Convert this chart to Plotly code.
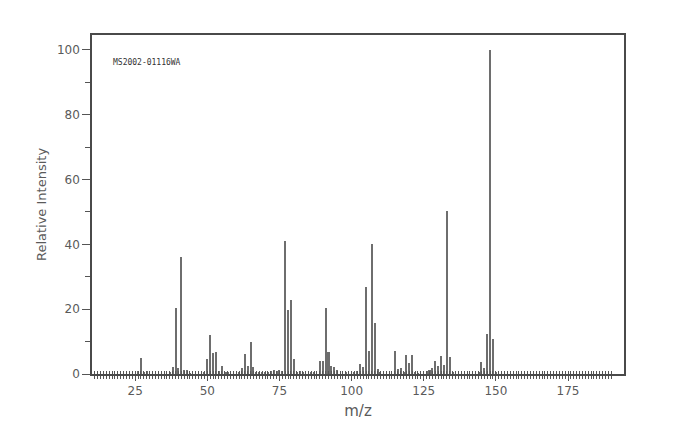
import plotly.graph_objects as go

# m/z values and relative intensities
mz = [26, 27, 28, 29, 37, 38, 39, 40, 41, 42, 43, 44,
      49, 50, 51, 52, 53, 54, 55, 56, 57, 61, 62, 63, 64, 65, 66, 67, 68, 69,
      70, 71, 72, 73, 74, 75, 76, 77, 78, 79, 80, 81, 82, 83, 86, 87,
      89, 90, 91, 92, 93, 94, 95, 98, 101, 102, 103, 104, 105, 106, 107, 108, 109, 110,
      115, 116, 117, 118, 119, 120, 121, 122, 123, 126, 127, 128, 129, 130, 131, 132, 133, 134, 135,
      144, 145, 146, 147, 148, 149, 150]
intensity = [0.8, 5.0, 0.5, 0.9, 0.4, 2.3, 20.3, 2.0, 36.0, 1.2, 1.1, 0.3,
             0.5, 4.5, 12.1, 6.6, 6.9, 0.8, 2.5, 0.5, 0.4, 0.4, 1.7, 6.3, 2.4, 9.8, 2.3, 0.6, 0.6, 0.6,
             0.4, 0.5, 1.0, 1.2, 1.0, 1.1, 0.9, 41.0, 19.8, 22.9, 4.6, 0.4, 1.0, 0.4, 0.4, 0.5,
             4.1, 4.1, 20.3, 6.9, 2.6, 2.1, 1.1, 0.4, 0.4, 0.8, 3.1, 2.2, 26.8, 7.0, 40.2, 15.7, 1.4, 0.5,
             7.0, 1.4, 2.0, 0.5, 6.0, 3.5, 6.0, 0.6, 0.3, 1.0, 1.2, 1.8, 3.9, 2.5, 5.5, 2.8, 50.2, 5.4, 0.5,
             0.4, 3.6, 2.0, 12.4, 100.0, 10.9, 0.6]

x_tickvals = [25, 50, 75, 100, 125, 150, 175]
x_minor_ticks = list(range(11, 191))
y_tickvals = [0, 20, 40, 60, 80, 100]
y_minor_ticks = [10, 30, 50, 70, 90]
sample_id = "MS2002-01116WA"

axis_col = "#4a4a4a"
tick_col = "#555555"
text_col = "#5a5a5a"

fig = go.Figure()
fig.add_trace(go.Bar(x=mz, y=intensity, width=0.7,
                     marker=dict(color="#6e6e6e", line=dict(width=0)),
                     showlegend=False, hoverinfo="x+y"))
# invisible trace on the overlay axis so its inside ticks are drawn
fig.add_trace(go.Scatter(x=[mz[0]], y=[0], xaxis="x2", mode="markers",
                         marker=dict(opacity=0), showlegend=False, hoverinfo="skip"))

fig.update_layout(
    width=700, height=447,
    margin=dict(l=84, r=84, t=27, b=81),
    paper_bgcolor="white", plot_bgcolor="white",
    bargap=0,
    font=dict(family="DejaVu Sans", color=text_col, size=12),
    xaxis=dict(range=[10.05, 194.4], tickvals=x_tickvals,
               ticks="outside", ticklen=5, tickwidth=1, tickcolor=tick_col,
               minor=dict(tickvals=x_minor_ticks, ticks="outside", ticklen=3, tickcolor=tick_col, tickwidth=1),
               showline=True, linecolor=axis_col, linewidth=1.5, mirror=True,
               showgrid=False, zeroline=False,
               tickfont=dict(size=12, color=text_col),
               title=dict(text="m/z", font=dict(size=15, color=text_col), standoff=8)),
    xaxis2=dict(range=[10.05, 194.4], overlaying="x", side="bottom", anchor="y",
                ticks="inside", tickvals=x_minor_ticks, ticklen=3, tickcolor=tick_col, tickwidth=1,
                showticklabels=False, showgrid=False, zeroline=False, showline=False),
    yaxis=dict(range=[0, 104.6], tickvals=y_tickvals,
               ticks="outside", ticklen=8, tickwidth=1, tickcolor=tick_col,
               minor=dict(tickvals=y_minor_ticks, ticks="outside", ticklen=5, tickcolor=tick_col),
               showline=True, linecolor=axis_col, linewidth=1.5, mirror=True,
               showgrid=False, zeroline=False,
               tickfont=dict(size=12, color=text_col),
               title=dict(text="Relative Intensity", font=dict(size=13, color=text_col), standoff=7)),
    annotations=[dict(text=sample_id, x=0.036, y=0.92, xref="paper", yref="paper",
                      xanchor="left", yanchor="middle", showarrow=False,
                      font=dict(family="DejaVu Sans Mono", size=8, color="#333333"))],
)

fig.write_html("out.html")
